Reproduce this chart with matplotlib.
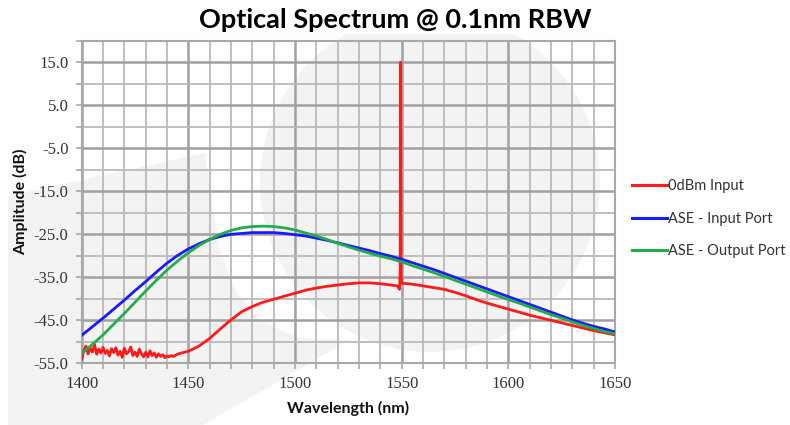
import matplotlib
matplotlib.use("Agg")
import matplotlib.pyplot as plt
from matplotlib.patches import Circle, Polygon, Rectangle
from matplotlib.ticker import MultipleLocator, FixedLocator

# ---------------- data ----------------
title = "Optical Spectrum @ 0.1nm RBW"
x_label = "Wavelength (nm)"
y_label = "Amplitude (dB)"
series_names = ["0dBm Input", "ASE - Input Port", "ASE - Output Port"]
series_colors = ["#ff1a1a", "#1a1aff", "#22ad4c"]

x_ticks = [1400, 1450, 1500, 1550, 1600, 1650]
y_ticks = [15, 5, -5, -15, -25, -35, -45, -55]
y_tick_labels = ["15.0", "5.0", "-5.0", "-15.0", "-25.0", "-35.0", "-45.0", "-55.0"]

wl_ase = [1400, 1405, 1410, 1415, 1420, 1425, 1430, 1435, 1440, 1445,
          1450, 1455, 1460, 1465, 1470, 1475, 1480, 1485, 1490, 1495,
          1500, 1505, 1510, 1515, 1520, 1525, 1530, 1535, 1540, 1545,
          1550, 1555, 1560, 1565, 1570, 1575, 1580, 1585, 1590, 1595,
          1600, 1605, 1610, 1615, 1620, 1625, 1630, 1635, 1640, 1645, 1650]

ase_input = [-48.5, -46.5, -44.5, -42.4, -40.3, -38.1, -36.0, -33.8, -31.7, -29.9,
             -28.4, -27.2, -26.2, -25.5, -25.0, -24.8, -24.6, -24.6, -24.6, -24.8,
             -25.1, -25.4, -25.9, -26.4, -27.0, -27.6, -28.2, -28.8, -29.5, -30.1,
             -30.8, -31.6, -32.4, -33.2, -34.1, -35.0, -35.9, -36.8, -37.7, -38.6,
             -39.5, -40.4, -41.3, -42.2, -43.1, -44.0, -44.9, -45.7, -46.4, -47.0, -47.7]

ase_output = [-52.7, -50.6, -48.4, -45.9, -43.4, -40.8, -38.2, -35.7, -33.3, -31.2,
              -29.3, -27.6, -26.2, -25.0, -24.1, -23.5, -23.2, -23.1, -23.2, -23.5,
              -24.0, -24.7, -25.4, -26.2, -27.1, -27.9, -28.7, -29.4, -30.1, -30.7,
              -31.4, -32.3, -33.1, -33.9, -34.8, -35.7, -36.6, -37.5, -38.4, -39.3,
              -40.2, -41.0, -41.9, -42.8, -43.7, -44.5, -45.4, -46.2, -46.9, -47.6, -48.2]

wl_red = [1400, 1401, 1402, 1403, 1404, 1405, 1406, 1407, 1408, 1409,
          1410, 1411, 1412, 1413, 1414, 1415, 1416, 1417, 1418, 1419,
          1420, 1421, 1422, 1423, 1424, 1425, 1426, 1427, 1428, 1429,
          1430, 1431, 1432, 1433, 1434, 1435, 1436, 1437, 1438, 1439,
          1440, 1441, 1442, 1443, 1444, 1445, 1446,
          1450, 1455, 1460, 1465, 1470, 1475, 1480, 1485, 1490, 1495,
          1500, 1505, 1510, 1515, 1520, 1525, 1530, 1535, 1540, 1545,
          1548, 1549, 1549.3, 1549.5, 1549.7, 1550, 1551,
          1555, 1560, 1565, 1570, 1575, 1580, 1585, 1590, 1595,
          1600, 1605, 1610, 1615, 1620, 1625, 1630, 1635, 1640, 1645, 1650]

red_input = [-54.0, -52.0, -51.0, -52.8, -51.4, -52.4, -50.6, -52.9, -51.7, -52.6,
             -51.3, -52.7, -52.0, -53.3, -51.6, -52.5, -51.4, -53.1, -52.2, -53.6,
             -51.5, -52.8, -52.3, -51.2, -53.2, -52.4, -53.4, -51.7, -52.8, -53.5,
             -52.4, -53.5, -52.1, -53.2, -52.6, -53.6, -52.8, -53.4, -53.0, -53.7,
             -53.3, -53.5, -53.2, -53.4, -53.1, -52.9, -52.7,
             -52.2, -51.0, -49.2, -47.0, -44.9, -43.0, -41.8, -40.8, -40.1, -39.4,
             -38.7, -38.0, -37.5, -37.1, -36.8, -36.5, -36.3, -36.3, -36.5, -36.8,
             -37.0, -37.8, -34.2, 15.0, -34.2, -36.3, -36.4,
             -36.6, -37.0, -37.4, -37.8, -38.5, -39.3, -40.2, -41.0, -41.7,
             -42.4, -43.1, -43.8, -44.4, -45.0, -45.6, -46.2, -46.8, -47.4, -47.9, -48.4]

# ---------------- figure ----------------
W, H = 790, 425
fig = plt.figure(figsize=(W / 100, H / 100), dpi=100)
fig.patch.set_facecolor("white")

def px(x, y):
    return (x / 100.0, (H - y) / 100.0)

bg = "#f3f3f3"
# watermark-like background shapes
crescent = [(8, 196), (205, 153), (212, 200), (220, 250), (236, 292), (262, 322),
            (300, 338), (350, 340), (203, 425), (8, 425)]
fig.patches.append(Polygon([px(*p) for p in crescent], closed=True, facecolor=bg,
                           edgecolor="none", transform=fig.dpi_scale_trans, zorder=-5))
cx, cy = px(430, 182)
fig.patches.append(Circle((cx, cy), 1.70, facecolor=bg, edgecolor="none",
                          transform=fig.dpi_scale_trans, zorder=-5))
x0, y0 = px(180, 34)
fig.patches.append(Rectangle((x0, y0), 4.4, 0.34, facecolor="white", edgecolor="none",
                             transform=fig.dpi_scale_trans, zorder=-4))

left, right, top, bottom = 81.7, 615.0, 40.8, 363.3
ax = fig.add_axes([left / W, 1 - bottom / H, (right - left) / W, (bottom - top) / H])
ax.set_facecolor("none")

for name, xs, ys, c in [(series_names[0], wl_red, red_input, series_colors[0]),
                        (series_names[1], wl_ase, ase_input, series_colors[1]),
                        (series_names[2], wl_ase, ase_output, series_colors[2])]:
    ax.plot(xs, ys, color=c, lw=2.0, label=name, zorder=3, solid_joinstyle="round")

ax.set_xlim(1400, 1650)
ax.set_ylim(-55, 20)
ax.xaxis.set_major_locator(FixedLocator(x_ticks))
ax.xaxis.set_minor_locator(MultipleLocator(10))
ax.yaxis.set_major_locator(FixedLocator(y_ticks))
ax.set_yticklabels(y_tick_labels)
ax.yaxis.set_minor_locator(FixedLocator([20, 10, 0, -10, -20, -30, -40, -50]))

ax.grid(which="major", color="#a0a0a0", lw=1.8, zorder=1)
ax.grid(which="minor", color="#bababa", lw=1.3, zorder=1)
ax.set_axisbelow(True)

for s in ax.spines.values():
    s.set_color("#a8a8a8")
    s.set_linewidth(1.5)

ax.tick_params(which="both", direction="out", length=4.5, width=1.2, color="#a8a8a8")
ax.tick_params(axis="both", which="major", labelsize=12, labelcolor="#333333", pad=5)

for lab in ax.get_xticklabels() + ax.get_yticklabels():
    lab.set_family("Liberation Serif")

ax.set_xlabel(x_label, family="Lato", weight="bold", fontsize=11.5, color="#111111", labelpad=6)
ax.set_ylabel(y_label, family="Lato", weight="bold", fontsize=11.5, color="#111111", labelpad=4)

fig.text(0.5, 1 - 20 / H, title, ha="center", va="center", family="Lato",
         weight="bold", fontsize=19.5, color="#000000")

leg = ax.legend(loc="upper left", bbox_to_anchor=(632 / W, 1 - 179 / H),
                bbox_transform=fig.transFigure, frameon=False, borderpad=0,
                borderaxespad=0, handlelength=2.4, handletextpad=0.1,
                labelspacing=1.28, prop={"family": "Lato", "size": 10.5})
for t in leg.get_texts():
    t.set_color("#333333")
for l in leg.get_lines():
    l.set_linewidth(2.2)

fig.savefig("out.png", dpi=100)
